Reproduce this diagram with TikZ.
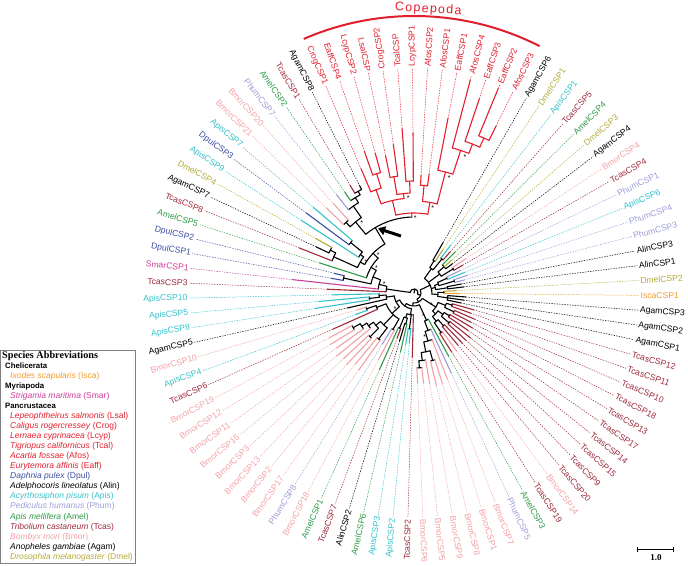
\documentclass[tikz,border=0pt]{standalone}
\usepackage{fontspec}
\setmainfont{Liberation Sans}
\newfontfamily\serifbf{Liberation Serif}
\usetikzlibrary{arrows.meta}

\definecolor{tcas}{HTML}{9E2A3C}
\definecolor{smar}{HTML}{CC3D9A}
\definecolor{dpul}{HTML}{3D4FA3}
\definecolor{amel}{HTML}{2E9B47}
\definecolor{agam}{HTML}{000000}
\definecolor{alin}{HTML}{000000}
\definecolor{dmel}{HTML}{B3AC3A}
\definecolor{apis}{HTML}{35C1C9}
\definecolor{bmor}{HTML}{F2A1A6}
\definecolor{phum}{HTML}{9C9DD8}
\definecolor{cop}{HTML}{E31E2D}
\definecolor{isca}{HTML}{F39C2B}

% angle of leaf position k on the circle
\newcommand{\ang}[1]{(48-(#1))*3.789474-0.6}

\tikzset{
  treeline/.style={line width=1.1pt, line cap=round},
  leafline/.style={line width=0.5pt, dash pattern=on 1.4pt off 1.2pt},
  leaflabel/.style={font=\fontsize{8.6}{9}\selectfont, inner sep=1.5pt},
  legtext/.style={font=\fontsize{8.5}{9}\selectfont, anchor=west, inner sep=0pt},
  legtitle/.style={font=\fontsize{7.8}{9}\selectfont\bfseries, anchor=west, inner sep=0pt},
  supp/.style={font=\fontsize{7}{7}\selectfont, inner sep=0pt}
}

\begin{document}
\begin{tikzpicture}[x=1pt,y=1pt]
\useasboundingbox (-414,-272) rectangle (274,293);

% internal branches
\foreach \a/\b/\m/\r/\q in {2.5/53/27.75/4/0,
  1/4/2.5/28/4, 2/6/4/36/28, 3.5/8.5/6/44/36, 3/4/3.5/72/44, 5/12/8.5/50/44,
  8.25/16/12/57/50, 6.75/9.75/8.25/62/57, 6/7.5/6.75/88/62, 7/8/7.5/94/88,
  9/10.5/9.75/66/62, 10/11/10.5/81/66, 13.69/23.67/16/76/57, 12.5/14.875/13.69/92/76,
  12/13/12.5/98/92, 14/15.75/14.875/106/92, 15/16.5/15.75/112/106, 16/17/16.5/116/112,
  41/64.75/53/7/4, 33.5/48.75/41/18/7, 32.5/34.5/33.5/30/18, 32/33/32.5/38/30,
  34/35/34.5/44/30, 37/39.5/38.25/32/18, 36/38/37/40/32, 39/40/39.5/46/32,
  42.5/45.5/44/22/18, 41.5/43.5/42.5/26/22, 41/42/41.5/36/26, 43/44/43.5/42/26,
  45/46/45.5/34/22, 47.5/50/48.75/24/18, 47/48/47.5/30/24, 49/51/50/34/24,
  56.5/73/64.75/10/7, 53.5/59.5/56.5/26/10, 52.5/54.5/53.5/34/26, 52/53/52.5/40/34,
  54/55/54.5/44/34, 57.5/61.5/59.5/30/26, 56.5/58.5/57.5/36/30, 56/57/56.5/42/36,
  58/59/58.5/46/36, 60.5/62.5/61.5/36/30, 60/61/60.5/44/36, 62/63/62.5/48/36,
  65.1/81/73/13/10, 64/66.15/65.1/30/13, 65/67.3/66.15/40/30, 66/68.6/67.3/50/40,
  67.5/69.75/68.6/60/50, 67/68/67.5/70/60, 69/70.5/69.75/68/60, 70/71/70.5/75/68,
  74/88.5/81/16/13, 72/76.5/74/22/16, 73/74/73.5/36/22, 75.5/77.5/76.5/26/22,
  75/76/75.5/32/26, 77/78/77.5/38/26, 84/93.1/88.5/20/16, 79.5/89.75/84/30/20,
  79/80/79.5/42/30, 81.5/84.7/83.1/44/30, 81/82/81.5/58/44, 83.5/85.9/84.7/50/44,
  83/84/83.5/62/50, 85/86.75/85.9/56/50, 86/87.5/86.75/62/56, 87/88/87.5/70/62,
  89/90.5/89.75/40/30, 90/91/90.5/50/40, 92/94.25/93.1/28/20, 93.5/95/94.25/35/28,
  93/94/93.5/45/35}{
  \draw[treeline] ({\ang{\a}}:\r) arc[start angle={\ang{\a}}, end angle={\ang{\b}}, radius=\r];
  \draw[treeline] ({\ang{\m}}:\q) -- ({\ang{\m}}:\r);
}

% copepod clade
\foreach \a/\b/\m/\r/\q in {20.625/26.72/23.67/80/76, 18.75/22.5/20.625/95/80,
  18/19.5/18.75/110/95, 19/20/19.5/125/110, 21.5/23.5/22.5/100/95, 21/22/21.5/118/100,
  23/24/23.5/112/100, 25.5/27.94/26.72/92/80, 25/26/25.5/108/92, 27/28.875/27.94/125/92,
  28/29.75/28.875/150/125, 29/30.5/29.75/160/150, 30/31/30.5/170/160}{
  \draw[treeline,cop] ({\ang{\a}}:\r) arc[start angle={\ang{\a}}, end angle={\ang{\b}}, radius=\r];
  \draw[treeline,cop] ({\ang{\m}}:\q) -- ({\ang{\m}}:\r);
}

% leaves
\foreach \k/\nm/\col/\rp/\rt in {1/TcasCSP3/tcas/28/87, 2/SmarCSP1/smar/36/122,
  3/DpulCSP1/dpul/72/84, 4/DpulCSP2/dpul/72/82, 5/AmelCSP5/amel/50/99,
  6/TcasCSP8/tcas/88/123, 7/AgamCSP7/agam/94/108, 8/DmelCSP4/dmel/94/112,
  9/ApisCSP9/apis/66/134, 10/DpulCSP3/dpul/81/134, 11/ApisCSP7/apis/81/132,
  12/BmorCSP21/bmor/98/122, 13/BmorCSP20/bmor/98/120, 14/PhumCSP7/phum/106/125,
  15/AmelCSP2/amel/112/122, 16/TcasCSP1/tcas/116/125, 17/AgamCSP8/agam/116/120,
  18/CrogCSP1/cop/110/135, 19/EaffCSP4/cop/125/150, 20/LcypCSP2/cop/125/145,
  21/LsalCSP/cop/118/140, 22/CrogCSP2/cop/118/150, 23/TcalCSP/cop/112/165,
  24/LcypCSP1/cop/112/160, 25/AfosCSP2/cop/108/118, 26/AfosCSP1/cop/108/120,
  27/EaffCSP1/cop/125/178, 28/AfosCSP4/cop/150/220, 29/EaffCSP3/cop/160/205,
  30/EaffCSP2/cop/170/221, 31/AfosCSP3/cop/170/186,
  32/AgamCSP6/agam/38/58, 33/DmelCSP1/dmel/38/52, 34/ApisCSP1/apis/44/60,
  35/TcasCSP5/tcas/44/55, 36/AmelCSP4/amel/40/58, 37/DmelCSP3/dmel/40/50,
  38/AgamCSP4/agam/40/48, 39/BmorCSP4/bmor/46/62, 40/TcasCSP4/tcas/46/56,
  41/PhumCSP1/phum/36/52, 42/ApisCSP6/apis/36/55, 43/PhumCSP4/phum/42/56,
  44/PhumCSP3/phum/42/52, 45/AlinCSP3/alin/34/48, 46/AlinCSP1/alin/34/50,
  47/DmelCSP2/dmel/30/42, 48/IscaCSP1/isca/30/45, 49/AgamCSP3/agam/34/52,
  50/AgamCSP2/agam/34/50, 51/AgamCSP1/agam/34/48,
  52/TcasCSP12/tcas/40/62, 53/TcasCSP11/tcas/40/60, 54/TcasCSP10/tcas/44/66,
  55/TcasCSP18/tcas/44/64, 56/TcasCSP13/tcas/42/68, 57/TcasCSP17/tcas/42/66,
  58/TcasCSP14/tcas/46/72, 59/TcasCSP15/tcas/46/70, 60/TcasCSP9/tcas/44/70,
  61/TcasCSP20/tcas/44/68, 62/BmorCSP14/bmor/48/72, 63/TcasCSP19/tcas/48/70,
  64/AmelCSP3/amel/30/72, 65/PhumCSP5/phum/40/88, 66/BmorCSP7/bmor/50/92,
  67/BmorCSP1/bmor/70/95, 68/BmorCSP8/bmor/70/95, 69/BmorCSP9/bmor/68/92,
  70/BmorCSP5/bmor/75/90, 71/BmorCSP6/bmor/75/90,
  72/TcasCSP2/tcas/22/64, 73/ApisCSP2/apis/36/50, 74/ApisCSP3/apis/36/52,
  75/AmelCSP6/amel/32/60, 76/AlinCSP2/alin/32/50, 77/TcasCSP7/tcas/38/48,
  78/AmelCSP1/amel/38/84, 79/BmorCSP18/bmor/42/75, 80/PhumCSP8/phum/42/60,
  81/BmorCSP17/bmor/58/95, 82/BmorCSP2/bmor/58/92, 83/BmorCSP13/bmor/62/98,
  84/BmorCSP3/bmor/62/96, 85/BmorCSP15/bmor/56/100, 86/BmorCSP11/bmor/62/95,
  87/BmorCSP12/bmor/70/98, 88/BmorCSP19/bmor/70/96, 89/TcasCSP6/tcas/40/89,
  90/ApisCSP4/apis/50/62, 91/BmorCSP10/bmor/50/60, 92/AgamCSP5/agam/28/68,
  93/ApisCSP8/apis/45/100, 94/ApisCSP5/apis/45/95, 95/ApisCSP10/apis/35/82}{
  \pgfmathsetmacro\th{\ang{\k}}
  \coordinate (t\k) at (\th:\rt);
  \draw[treeline,\col] (\th:\rp) -- (t\k);
  \ifnum\k<22 \def\rot{180}\def\anc{east}\else\ifnum\k>71 \def\rot{180}\def\anc{east}\else\def\rot{0}\def\anc{west}\fi\fi
  \node[leaflabel,\col,rotate=\th+\rot,anchor=\anc] (\nm) at (\th:225) {\nm};
  \draw[leafline,\col] (t\k) -- (\nm.\anc);
}

% support marks
\foreach \m/\r in {23.67/80, 26.72/92, 27.94/125, 28.875/150, 22.5/100, 16/76, 13.69/92,
  12/57, 8.25/62, 8.5/50, 4/36, 65.1/30, 67.3/50, 56.5/26, 84/30}{
  \node[supp] at ({\ang{\m}-2.5}:\r-5) {*};
}

% arrow to the node
\coordinate (nodeU5) at ({\ang{16}}:76);
\coordinate (arrtail) at (-13,57);
\draw[-{Triangle[length=7pt,width=9pt]}, line width=3pt, shorten >=3pt] (arrtail) -- (nodeU5);

% Copepoda
\draw[cop,line width=2pt] ({\ang{17.9}}:277) arc[start angle={\ang{17.9}}, end angle={\ang{31.2}}, radius=277];
\node[cop,font={\fontsize{12.5}{13}\selectfont\addfontfeature{LetterSpace=10}},inner sep=0pt,anchor=south,rotate=-3] (copepoda) at (14,277.5) {Copepoda};

% legend
\draw[gray,line width=0.5pt] (-413.5,-57) rectangle (-279,-270.5);
\node[anchor=west,inner sep=0pt,font={\serifbf\bfseries\fontsize{10.2}{11}\selectfont}] (legtitle) at (-412,-63.5) {Species Abbreviations};
\node[legtitle] (legChel) at (-409,-73) {Chelicerata};
\node[legtext,isca] (legIsca) at (-404,-83) {\textit{Ixodes scapularis} (Isca)};
\node[legtitle] (legMyri) at (-409,-93) {Myriapoda};
\node[legtext,smar] (legSmar) at (-404,-103) {\textit{Strigamia maritima} (Smar)};
\node[legtitle] (legPanc) at (-409,-113.2) {Pancrustacea};
\foreach \j/\sp/\ab/\col in {6/Lepeophtheirus salmonis/Lsal/cop, 7/Caligus rogercressey/Crog/cop,
  8/Lernaea cyprinacea/Lcyp/cop, 9/Tigriopus californicus/Tcal/cop, 10/Acartia fossae/Afos/cop,
  11/Eurytemora affinis/Eaff/cop, 12/Daphnia pulex/Dpul/dpul, 13/Adelphocoris lineolatus/Alin/alin,
  14/Acyrthosiphon pisum/Apis/apis, 15/Pediculus humanus/Phum/phum, 16/Apis mellifera/Amel/amel,
  17/Tribolium castaneum/Tcas/tcas, 18/Bombyx mori/Bmor/bmor, 19/Anopheles gambiae/Agam/agam,
  20/Drosophila melanogaster/Dmel/dmel}{
  \node[legtext,\col] (leg\ab) at (-404,{-63-10.05*\j}) {\textit{\sp} (\ab)};
}

% scale bar
\coordinate (sbl) at (223,-256);
\coordinate (sbr) at (259,-256);
\draw[line width=1pt] (sbl) -- (sbr);
\draw[line width=1pt] ([yshift=2.5pt]sbl) -- ([yshift=-2.5pt]sbl);
\draw[line width=1pt] ([yshift=2.5pt]sbr) -- ([yshift=-2.5pt]sbr);
\node[font={\serifbf\bfseries\fontsize{9}{9}\selectfont},inner sep=0pt] (scale) at (242,-264.5) {1.0};

\end{tikzpicture}
\end{document}
